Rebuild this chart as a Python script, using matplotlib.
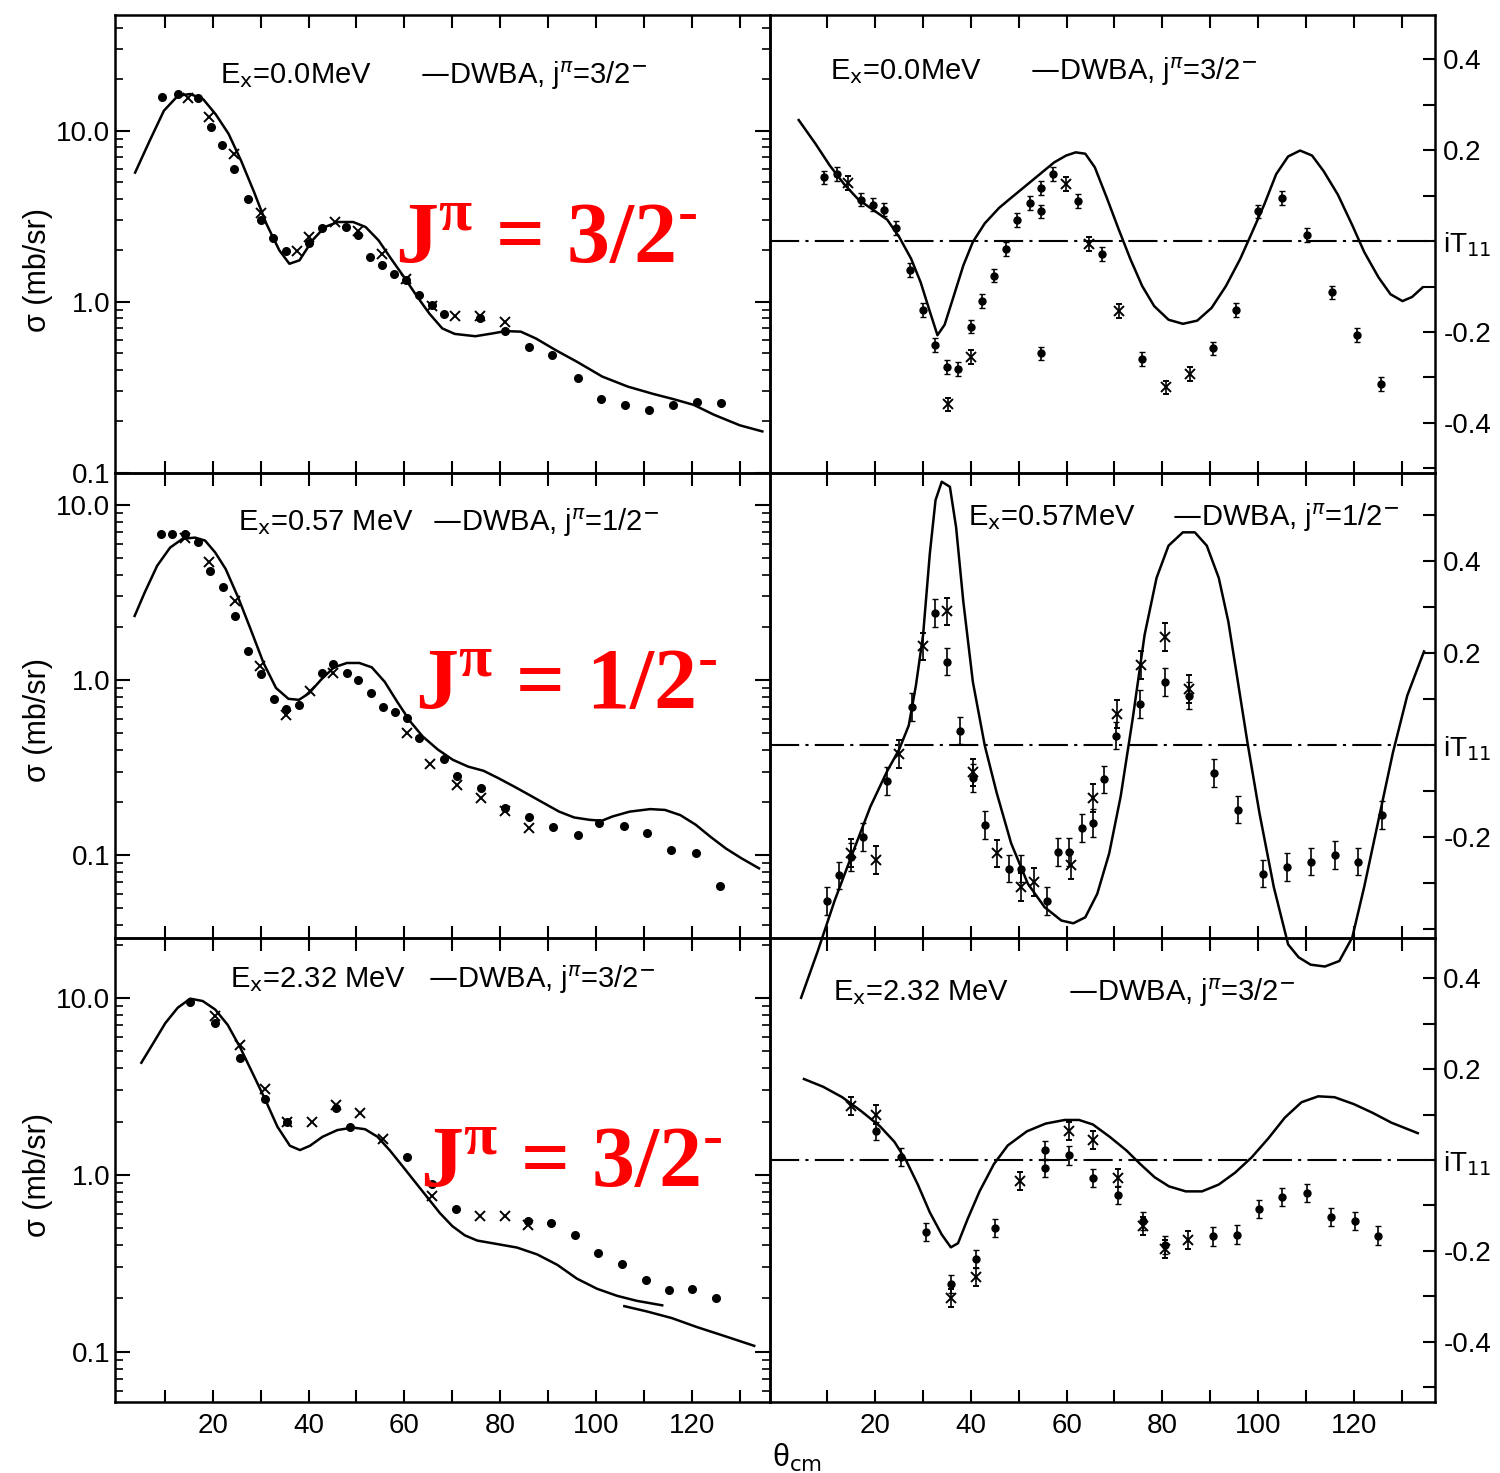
import matplotlib
matplotlib.use("Agg")
import matplotlib.pyplot as plt
from matplotlib.ticker import FixedLocator, FixedFormatter, MultipleLocator, NullFormatter, LogLocator

plt.rcParams['font.family'] = ['Liberation Sans', 'DejaVu Sans']
plt.rcParams['axes.linewidth'] = 1.8

# ---------------- data ----------------
# top row: Ex = 0.0 MeV
tl_curve_x = [3.8, 6.8, 9.8, 12.7, 15.3, 18.0, 20.6, 23.3, 25.9, 28.6, 31.2, 33.9, 36.0, 38.1, 40.8, 43.4,
              46.1, 49.3, 51.9, 54.6, 57.2, 59.9, 62.5, 65.2, 67.9, 70.5, 74.8, 78.5, 81.1, 84.3, 87.5, 91.7,
              96.0, 101.3, 106.6, 111.9, 116.2, 120.4, 124.6, 130.0, 134.7]
tl_curve_y = [5.7, 8.7, 13.1, 16.0, 16.4, 15.3, 12.5, 9.6, 6.7, 4.4, 2.86, 2.0, 1.67, 1.75, 2.29, 2.74,
              2.93, 2.93, 2.74, 2.29, 1.79, 1.4, 1.09, 0.855, 0.70, 0.65, 0.63, 0.655, 0.675, 0.67, 0.61, 0.52,
              0.447, 0.366, 0.32, 0.29, 0.27, 0.25, 0.219, 0.19, 0.175]
tl_dot_x = [9.5, 12.7, 16.9, 19.6, 21.9, 24.5, 27.3, 30.0, 32.5, 35.2, 40.0, 42.7, 47.9, 50.3, 52.9, 55.4,
            57.8, 60.4, 63.0, 65.7, 68.2, 75.8, 80.9, 85.9, 90.9, 96.2, 101.1, 106.1, 111.1, 116.0, 121.0, 126.0]
tl_dot_y = [15.8, 16.4, 15.5, 10.5, 8.3, 6.0, 4.0, 3.0, 2.37, 1.98, 2.2, 2.7, 2.75, 2.45, 1.83, 1.64,
            1.46, 1.34, 1.10, 0.96, 0.855, 0.80, 0.68, 0.547, 0.489, 0.357, 0.27, 0.25, 0.234, 0.25, 0.261, 0.258]
tl_cross_x = [14.8, 19.3, 24.5, 30.0, 37.6, 40.0, 45.6, 50.3, 55.4, 60.4, 65.7, 70.5, 75.8, 80.9]
tl_cross_y = [15.6, 12.1, 7.3, 3.3, 1.98, 2.4, 2.93, 2.6, 1.9, 1.36, 0.94, 0.83, 0.83, 0.76]

tr_curve_x = [4.0, 7.5, 10.5, 13.5, 16.5, 19.5, 22.5, 25.0, 27.5, 29.5, 31.5, 33.0, 34.5, 36.4, 38.4, 40.4,
              42.9, 45.9, 48.4, 51.4, 54.4, 57.4, 59.9, 61.9, 63.9, 65.9, 68.4, 70.8, 73.3, 75.8, 78.3, 81.3,
              84.3, 87.3, 90.3, 93.3, 96.3, 98.8, 101.3, 103.8, 106.3, 108.8, 111.3, 113.7, 116.7, 119.7,
              122.2, 125.2, 127.7, 130.2, 132.2, 134.4]
tr_curve_y = [0.266, 0.214, 0.166, 0.125, 0.091, 0.069, 0.047, 0.009, -0.039, -0.091, -0.158, -0.207, -0.184,
              -0.121, -0.054, -0.002, 0.039, 0.073, 0.095, 0.121, 0.147, 0.173, 0.188, 0.195, 0.192, 0.162,
              0.095, 0.028, -0.039, -0.099, -0.143, -0.173, -0.182, -0.175, -0.147, -0.099, -0.039, 0.020,
              0.080, 0.147, 0.186, 0.199, 0.188, 0.154, 0.102, 0.035, -0.024, -0.080, -0.117, -0.132, -0.123,
              -0.102]
tr_dot_x = [9.3, 12.0, 17.0, 19.5, 21.8, 24.3, 27.2, 30.0, 32.5, 35.1, 37.4, 40.1, 42.4, 44.9, 47.4, 49.6,
            52.4, 54.7, 54.7, 54.7, 57.2, 62.4, 67.4, 75.8, 90.6, 95.5, 100.1, 105.1, 110.2, 115.5, 120.7, 125.7]
tr_dot_y = [0.140, 0.147, 0.091, 0.080, 0.069, 0.029, -0.063, -0.151, -0.229, -0.277, -0.281, -0.188, -0.132,
            -0.076, -0.017, 0.046, 0.084, 0.117, 0.065, -0.247, 0.147, 0.088, -0.028, -0.259, -0.236, -0.151,
            0.065, 0.095, 0.013, -0.113, -0.207, -0.314]
tr_cross_x = [14.3, 35.2, 40.1, 59.9, 64.7, 70.9, 80.8, 85.8]
tr_cross_y = [0.128, -0.359, -0.255, 0.125, -0.006, -0.154, -0.322, -0.292]

# middle row: Ex = 0.57 MeV
ml_curve_x = [3.7, 5.8, 8.4, 11.1, 13.7, 16.3, 18.4, 20.5, 22.7, 25.3, 27.9, 30.6, 33.2, 35.8, 38.0, 40.1,
              42.7, 45.3, 48.0, 50.6, 53.2, 55.9, 58.5, 61.2, 63.8, 67.0, 70.1, 73.3, 76.5, 79.6, 82.8, 86.0,
              89.1, 92.3, 95.4, 98.6, 101.2, 103.4, 107.0, 111.3, 114.4, 117.6, 120.8, 123.9, 127.1, 130.3, 134.0]
ml_curve_y = [2.32, 3.16, 4.49, 5.7, 6.4, 6.5, 6.25, 5.35, 4.3, 2.96, 1.95, 1.25, 0.90, 0.78, 0.77, 0.84,
              1.01, 1.18, 1.25, 1.25, 1.18, 0.975, 0.75, 0.58, 0.476, 0.40, 0.35, 0.32, 0.303, 0.275, 0.247,
              0.221, 0.198, 0.177, 0.164, 0.159, 0.157, 0.166, 0.177, 0.183, 0.181, 0.169, 0.149, 0.127, 0.109,
              0.096, 0.084]
ml_dot_x = [9.2, 11.6, 14.2, 16.9, 19.5, 22.1, 24.6, 27.4, 30.0, 32.7, 35.3, 38.0, 42.7, 45.1, 48.0, 50.3,
            53.0, 55.6, 58.0, 60.6, 63.0, 68.2, 70.9, 75.9, 81.0, 86.0, 91.0, 96.3, 100.7, 105.8, 110.7,
            115.7, 120.8, 125.8]
ml_dot_y = [6.8, 6.8, 6.8, 6.17, 4.2, 3.38, 2.32, 1.46, 1.08, 0.78, 0.68, 0.72, 1.1, 1.23, 1.1, 1.0,
            0.84, 0.70, 0.66, 0.61, 0.467, 0.353, 0.284, 0.241, 0.185, 0.166, 0.144, 0.130, 0.153, 0.147,
            0.133, 0.107, 0.103, 0.067]
ml_cross_x = [14.2, 19.3, 24.6, 29.8, 35.3, 40.4, 45.1, 60.6, 65.4, 70.9, 75.9, 81.0, 86.0]
ml_cross_y = [6.5, 4.69, 2.83, 1.2, 0.63, 0.86, 1.09, 0.50, 0.33, 0.252, 0.211, 0.178, 0.142]

mr_curve_x = [4.5, 8.0, 11.5, 15.5, 19.0, 22.5, 25.0, 27.0, 28.5, 30.0, 31.4, 32.6, 33.9, 35.6, 36.9, 38.4,
              40.4, 42.9, 45.4, 48.4, 51.9, 55.4, 58.9, 61.4, 63.9, 66.4, 68.9, 71.3, 73.8, 76.3, 78.8, 81.3,
              84.3, 86.8, 89.3, 91.8, 93.8, 95.8, 97.8, 100.3, 103.3, 106.3, 108.5, 111.0, 114.0, 117.0, 119.7,
              122.2, 125.2, 128.2, 131.2, 134.7]
mr_curve_y = [-0.55, -0.448, -0.339, -0.229, -0.134, -0.057, -0.010, 0.042, 0.129, 0.239, 0.415, 0.532, 0.572,
              0.561, 0.473, 0.312, 0.137, -0.002, -0.105, -0.214, -0.302, -0.353, -0.382, -0.388, -0.375,
              -0.324, -0.236, -0.112, 0.056, 0.239, 0.363, 0.433, 0.462, 0.462, 0.433, 0.363, 0.268, 0.137,
              0.005, -0.148, -0.309, -0.434, -0.462, -0.478, -0.482, -0.47, -0.419, -0.309, -0.163, -0.017,
              0.107, 0.203]
mr_dot_x = [10.0, 12.5, 15.0, 17.5, 22.5, 27.7, 32.4, 34.9, 37.7, 40.4, 42.9, 47.9, 50.4, 55.9, 58.1, 60.6,
            63.2, 65.6, 67.9, 70.4, 75.3, 80.5, 85.6, 90.8, 95.8, 101.1, 106.0, 111.0, 116.0, 121.0, 126.0]
mr_dot_y = [-0.339, -0.284, -0.244, -0.200, -0.079, 0.082, 0.287, 0.181, 0.031, -0.072, -0.174, -0.269,
            -0.269, -0.339, -0.233, -0.233, -0.181, -0.170, -0.075, 0.020, 0.089, 0.137, 0.107, -0.061,
            -0.141, -0.280, -0.265, -0.254, -0.240, -0.254, -0.152]
mr_cross_x = [15.0, 20.2, 25.0, 30.0, 34.9, 40.4, 45.4, 50.4, 53.2, 60.9, 65.6, 70.6, 75.5, 80.5, 85.6]
mr_cross_y = [-0.235, -0.251, -0.020, 0.214, 0.290, -0.060, -0.236, -0.309, -0.298, -0.262, -0.116, 0.067,
              0.173, 0.235, 0.122]

# bottom row: Ex = 2.32 MeV
bl_curve_x = [5.1, 7.5, 10.1, 12.7, 15.3, 17.9, 20.5, 23.1, 25.7, 28.3, 30.9, 33.5, 36.1, 38.2, 40.3, 42.9,
              46.0, 49.2, 51.8, 54.4, 57.0, 59.6, 62.2, 64.8, 67.4, 70.0, 72.6, 75.2, 79.4, 83.5, 87.7, 91.9,
              96.0, 100.2, 104.4, 108.5, 113.8]
bl_curve_y = [4.3, 5.5, 7.2, 8.8, 9.9, 9.6, 8.6, 7.05, 5.26, 3.76, 2.68, 1.87, 1.46, 1.38, 1.46, 1.64,
              1.79, 1.85, 1.81, 1.64, 1.37, 1.12, 0.913, 0.745, 0.608, 0.513, 0.455, 0.425, 0.406, 0.388, 0.355,
              0.31, 0.259, 0.227, 0.207, 0.194, 0.183]
bl_tail_x = [105.9, 110.6, 115.8, 121.0, 126.3, 133.0]
bl_tail_y = [0.181, 0.169, 0.155, 0.138, 0.124, 0.108]
bl_dot_x = [15.3, 20.5, 25.7, 30.9, 35.6, 45.8, 48.6, 60.6, 65.8, 70.8, 85.8, 90.6, 95.5, 100.5, 105.4,
            110.4, 115.3, 120.0, 125.0]
bl_dot_y = [9.5, 7.2, 4.6, 2.68, 1.98, 2.4, 1.87, 1.26, 0.89, 0.637, 0.545, 0.537, 0.455, 0.363, 0.313,
            0.254, 0.224, 0.226, 0.20]
bl_cross_x = [20.5, 25.7, 30.9, 35.6, 40.8, 45.8, 50.7, 55.6, 65.8, 75.7, 80.9, 85.8]
bl_cross_y = [7.9, 5.4, 3.07, 1.98, 1.98, 2.47, 2.24, 1.6, 0.762, 0.587, 0.587, 0.52]

br_curve_x = [5.1, 9.1, 13.1, 17.0, 21.0, 24.0, 26.4, 28.9, 31.4, 33.9, 35.8, 37.3, 39.3, 41.8, 44.8, 47.7,
              51.7, 55.6, 59.6, 62.6, 65.5, 69.0, 72.5, 75.4, 78.4, 81.4, 84.9, 88.3, 91.8, 95.2, 98.7, 102.2,
              105.6, 109.1, 112.6, 116.0, 120.0, 123.9, 127.9, 133.4]
br_curve_y = [0.178, 0.161, 0.138, 0.108, 0.074, 0.040, 0.0, -0.054, -0.115, -0.164, -0.192, -0.183, -0.130,
              -0.069, -0.009, 0.032, 0.063, 0.080, 0.088, 0.088, 0.078, 0.051, 0.021, -0.009, -0.038, -0.058,
              -0.069, -0.069, -0.054, -0.028, 0.006, 0.048, 0.093, 0.127, 0.140, 0.138, 0.123, 0.104, 0.082,
              0.059]
br_dot_x = [20.2, 25.4, 30.7, 35.8, 41.0, 45.0, 55.4, 55.4, 60.6, 65.5, 70.7, 75.9, 80.6, 90.5, 95.6,
            100.2, 105.1, 110.3, 115.2, 120.2, 125.0]
br_dot_y = [0.063, 0.006, -0.158, -0.273, -0.217, -0.149, 0.021, -0.017, 0.010, -0.039, -0.077, -0.134,
            -0.186, -0.168, -0.164, -0.107, -0.081, -0.073, -0.126, -0.134, -0.166]
br_cross_x = [15.0, 20.2, 35.8, 41.0, 50.2, 60.6, 65.5, 70.7, 75.9, 80.6, 85.3]
br_cross_y = [0.119, 0.100, -0.303, -0.258, -0.047, 0.063, 0.044, -0.039, -0.145, -0.196, -0.175]

iT_err = [0.015, 0.03, 0.02]

# ---------------- figure ----------------
fig = plt.figure(figsize=(15, 14.73), dpi=100)
W, H = 1500.0, 1473.0


def box(x0, x1, y0, y1):
    return [x0 / W, 1 - y1 / H, (x1 - x0) / W, (y1 - y0) / H]


rows = [(15, 473), (473, 938), (938, 1402)]
left_lims = [(0.1, 47.5), (0.0336, 15.2), (0.052, 21.8)]
right_lims = [(-0.51, 0.497), (-0.42, 0.591), (-0.532, 0.488)]

left_sets = [(tl_curve_x, tl_curve_y, tl_dot_x, tl_dot_y, tl_cross_x, tl_cross_y),
             (ml_curve_x, ml_curve_y, ml_dot_x, ml_dot_y, ml_cross_x, ml_cross_y),
             (bl_curve_x, bl_curve_y, bl_dot_x, bl_dot_y, bl_cross_x, bl_cross_y)]
right_sets = [(tr_curve_x, tr_curve_y, tr_dot_x, tr_dot_y, tr_cross_x, tr_cross_y),
              (mr_curve_x, mr_curve_y, mr_dot_x, mr_dot_y, mr_cross_x, mr_cross_y),
              (br_curve_x, br_curve_y, br_dot_x, br_dot_y, br_cross_x, br_cross_y)]


def style_x(ax, labels):
    ax.set_xticks([20, 40, 60, 80, 100, 120])
    ax.xaxis.set_minor_locator(FixedLocator([10, 30, 50, 70, 90, 110, 130]))
    ax.tick_params(axis='x', which='both', direction='in', top=True, bottom=True,
                   length=9, width=1.5, labelsize=20, pad=8)
    if not labels:
        ax.tick_params(axis='x', labelbottom=False)


for i, (y0, y1) in enumerate(rows):
    # left: cross section
    ax = fig.add_axes(box(115, 770, y0, y1))
    ax.patch.set_visible(False)
    cx, cy, dx, dy, xx, xy = left_sets[i]
    ax.plot(cx, cy, color='black', lw=1.8)
    if i == 2:
        ax.plot(bl_tail_x, bl_tail_y, color='black', lw=1.8)
    ax.plot(dx, dy, 'o', color='black', ms=5.5)
    ax.plot(xx, xy, 'x', color='black', ms=6.5, mew=1.4)
    ax.set_yscale('log')
    ax.set_xlim(-0.4, 136.3)
    ax.set_ylim(*left_lims[i])
    ax.yaxis.set_major_locator(FixedLocator([0.1, 1.0, 10.0]))
    ax.yaxis.set_major_formatter(FixedFormatter(['0.1', '1.0', '10.0']))
    ax.yaxis.set_minor_locator(LogLocator(base=10, subs=range(2, 10)))
    ax.yaxis.set_minor_formatter(NullFormatter())
    ax.tick_params(axis='y', which='major', direction='in', left=True, right=True,
                   length=11, width=1.5, labelsize=20)
    ax.tick_params(axis='y', which='minor', direction='in', left=True, right=True,
                   length=6, width=1.2)
    style_x(ax, i == 2)

    # right: analysing power
    ax2 = fig.add_axes(box(770, 1435, y0, y1))
    ax2.patch.set_visible(False)
    cx, cy, dx, dy, xx, xy = right_sets[i]
    ax2.axhline(0, color='black', lw=1.5, ls=(0, (14, 3, 1.5, 3)))
    ax2.plot(cx, cy, color='black', lw=1.8, clip_on=(i != 1), zorder=5)
    ax2.errorbar(dx, dy, yerr=iT_err[i], fmt='o', color='black', ms=5, elinewidth=1.2, capsize=2.5)
    ax2.errorbar(xx, xy, yerr=iT_err[i], fmt='x', color='black', ms=6.5, mew=1.4,
                 elinewidth=1.2, capsize=2.5)
    ax2.set_xlim(-2, 137)
    ax2.set_ylim(*right_lims[i])
    if i == 1:
        yt = [-0.2, 0.0, 0.2, 0.4]
        yl = ['-0.2', 'iT$_{11}$', '0.2', '0.4']
    else:
        yt = [-0.4, -0.2, 0.0, 0.2, 0.4]
        yl = ['-0.4', '-0.2', 'iT$_{11}$', '0.2', '0.4']
    ax2.yaxis.set_major_locator(FixedLocator(yt))
    ax2.yaxis.set_major_formatter(FixedFormatter(yl))
    ax2.yaxis.set_minor_locator(MultipleLocator(0.1))
    ax2.yaxis.tick_right()
    ax2.tick_params(axis='y', which='both', direction='in', left=False, right=True,
                    length=9, width=1.5, labelsize=20, pad=6)
    style_x(ax2, i == 2)

# panel captions
dw = '—DWBA, j$^{\\pi}$=%s$^{-}$'
caps = [(220, 76, 'E$_\\mathrm{x}$=0.0MeV'), (420, 76, dw % '3/2'),
        (830, 72, 'E$_\\mathrm{x}$=0.0MeV'), (1030, 72, dw % '3/2'),
        (238, 523, 'E$_\\mathrm{x}$=0.57 MeV'), (432, 523, dw % '1/2'),
        (968, 518, 'E$_\\mathrm{x}$=0.57MeV'), (1172, 518, dw % '1/2'),
        (230, 980, 'E$_\\mathrm{x}$=2.32 MeV'), (428, 980, dw % '3/2'),
        (833, 993, 'E$_\\mathrm{x}$=2.32 MeV'), (1068, 993, dw % '3/2')]
for px, py, s in caps:
    fig.text(px / W, 1 - py / H, s, fontsize=21, ha='left', va='center')

# red spin labels
reds = [(395, 243, '3/2'), (415, 688, '1/2'), (420, 1167, '3/2')]
for px, py, s in reds:
    fig.text(px / W, 1 - py / H, 'J$^{\\mathregular{π}}$ = ' + s + '$^{\\mathregular{\u2010}}$',
             fontsize=62, color='red', family=['Liberation Serif', 'DejaVu Serif'], weight='bold',
             ha='left', va='center')

# axis labels
for py in [270, 720, 1175]:
    fig.text(38 / W, 1 - py / H, 'σ (mb/sr)', fontsize=22, rotation=90, ha='center', va='center')
fig.text(797 / W, 1 - 1458 / H, 'θ$_\\mathrm{cm}$', fontsize=22, ha='center', va='center')

fig.savefig('out.png', dpi=100)
